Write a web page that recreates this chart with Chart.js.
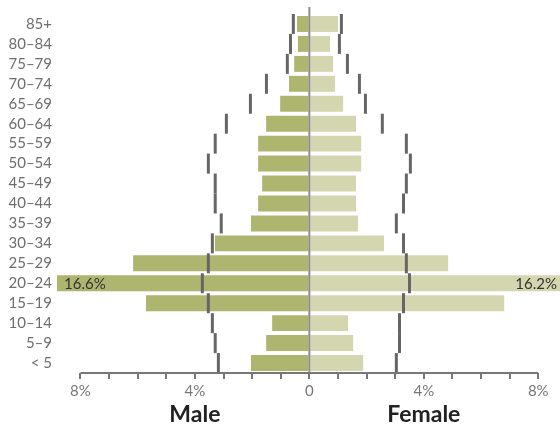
<!DOCTYPE html>
<html>
<head>
<meta charset="utf-8">
<script src="https://cdn.jsdelivr.net/npm/chart.js@4"></script>
<style>
  body { margin: 0; background: #fff; }
</style>
</head>
<body>
<canvas id="pyramid" width="560" height="425"></canvas>
<script>
// Age groups, top to bottom
const ageGroups = ["85+", "80–84", "75–79", "70–74", "65–69", "60–64", "55–59", "50–54", "45–49",
  "40–44", "35–39", "30–34", "25–29", "20–24", "15–19", "10–14", "5–9", "< 5"];

// Share of population (%)
const malePct = [0.43, 0.40, 0.53, 0.71, 1.02, 1.51, 1.79, 1.79, 1.65,
  1.79, 2.04, 3.30, 6.16, 16.6, 5.71, 1.30, 1.51, 2.04];
const femalePct = [1.00, 0.72, 0.83, 0.90, 1.18, 1.63, 1.81, 1.81, 1.63,
  1.63, 1.70, 2.61, 4.85, 16.2, 6.81, 1.35, 1.53, 1.88];

// Comparison markers (%)
const maleRef = [0.56, 0.66, 0.77, 1.50, 2.06, 2.90, 3.29, 3.53, 3.29,
  3.29, 3.08, 3.39, 3.53, 3.74, 3.53, 3.39, 3.29, 3.18];
const femaleRef = [1.12, 1.05, 1.33, 1.75, 1.96, 2.55, 3.39, 3.53, 3.39,
  3.29, 3.04, 3.29, 3.39, 3.50, 3.29, 3.15, 3.15, 3.04];

const xTicks = [-8, -4, 0, 4, 8];

const FONT = "Lato, 'Noto Sans', sans-serif";

// axis line, zero line, side titles, clipped-bar labels
const pyramidExtras = {
  id: "pyramidExtras",
  afterDatasetsDraw(chart) {
    const ctx = chart.ctx;
    const x = chart.scales.x;
    const area = chart.chartArea;
    ctx.save();

    // zero line
    ctx.strokeStyle = "#8c8c8c";
    ctx.lineWidth = 2;
    ctx.beginPath();
    ctx.moveTo(x.getPixelForValue(0), area.top - 7);
    ctx.lineTo(x.getPixelForValue(0), area.bottom);
    ctx.stroke();

    // bottom axis line
    ctx.strokeStyle = "#777";
    ctx.beginPath();
    ctx.moveTo(x.getPixelForValue(-8), area.bottom);
    ctx.lineTo(x.getPixelForValue(8), area.bottom);
    ctx.stroke();

    // labels for bars running past the axis
    ctx.font = "15px " + FONT;
    ctx.fillStyle = "#333";
    ctx.textBaseline = "middle";
    const maleMeta = chart.getDatasetMeta(2);
    const femaleMeta = chart.getDatasetMeta(3);
    malePct.forEach((v, i) => {
      if (-v < x.min) {
        ctx.textAlign = "left";
        ctx.fillText(v.toFixed(1) + "%", area.left + 7, maleMeta.data[i].y + 1);
      }
    });
    femalePct.forEach((v, i) => {
      if (v > x.max) {
        ctx.textAlign = "right";
        ctx.fillText(v.toFixed(1) + "%", area.right - 3, femaleMeta.data[i].y + 1);
      }
    });

    // side titles
    ctx.font = "bold 23px " + FONT;
    ctx.fillStyle = "#222";
    ctx.textAlign = "center";
    ctx.fillText("Male", x.getPixelForValue(-4), 415);
    ctx.fillText("Female", x.getPixelForValue(4), 415);
    ctx.restore();
  }
};

new Chart(document.getElementById("pyramid"), {
  type: "bar",
  data: {
    labels: ageGroups,
    datasets: [
      {
        type: "line",
        data: maleRef.map(v => -v),
        showLine: false,
        pointStyle: "line",
        rotation: 90,
        radius: 10,
        borderWidth: 3,
        borderColor: "#666",
        order: 0
      },
      {
        type: "line",
        data: femaleRef,
        showLine: false,
        pointStyle: "line",
        rotation: 90,
        radius: 10,
        borderWidth: 3,
        borderColor: "#666",
        order: 0
      },
      {
        label: "Male",
        data: malePct.map(v => -v),
        backgroundColor: "#adb56f",
        grouped: false,
        barPercentage: 0.8,
        categoryPercentage: 1,
        order: 1
      },
      {
        label: "Female",
        data: femalePct,
        backgroundColor: "#d4d6b0",
        grouped: false,
        barPercentage: 0.8,
        categoryPercentage: 1,
        order: 1
      }
    ]
  },
  options: {
    indexAxis: "y",
    responsive: false,
    animation: false,
    layout: { autoPadding: false, padding: { top: 14, right: 0, left: 0, bottom: 0 } },
    plugins: {
      legend: { display: false },
      tooltip: { enabled: false }
    },
    scales: {
      x: {
        type: "linear",
        min: -8.82,
        max: 8.76,
        afterBuildTicks(scale) {
          const t = [];
          for (let v = -8; v <= 8; v++) t.push({ value: v });
          scale.ticks = t;
        },
        afterFit(scale) {
          scale.height = 52;
          scale.paddingLeft = 0;
          scale.paddingRight = 0;
        },
        border: { display: false },
        grid: {
          drawOnChartArea: false,
          drawTicks: true,
          tickLength: 6,
          color: "#777",
          lineWidth: 2
        },
        ticks: {
          padding: 3,
          autoSkip: false,
          maxRotation: 0,
          color: "#777",
          font: { family: FONT, size: 15 },
          callback(v) {
            if (!xTicks.includes(v)) return "";
            return v === 0 ? "0" : Math.abs(v) + "%";
          }
        }
      },
      y: {
        afterFit(scale) {
          scale.width = 57;
          scale.paddingTop = 0;
          scale.paddingBottom = 0;
        },
        border: { display: false },
        grid: { display: false, drawTicks: false },
        ticks: {
          padding: 5,
          autoSkip: false,
          color: "#6e6e6e",
          font: { family: FONT, size: 15 }
        }
      }
    }
  },
  plugins: [pyramidExtras]
});
</script>
</body>
</html>
